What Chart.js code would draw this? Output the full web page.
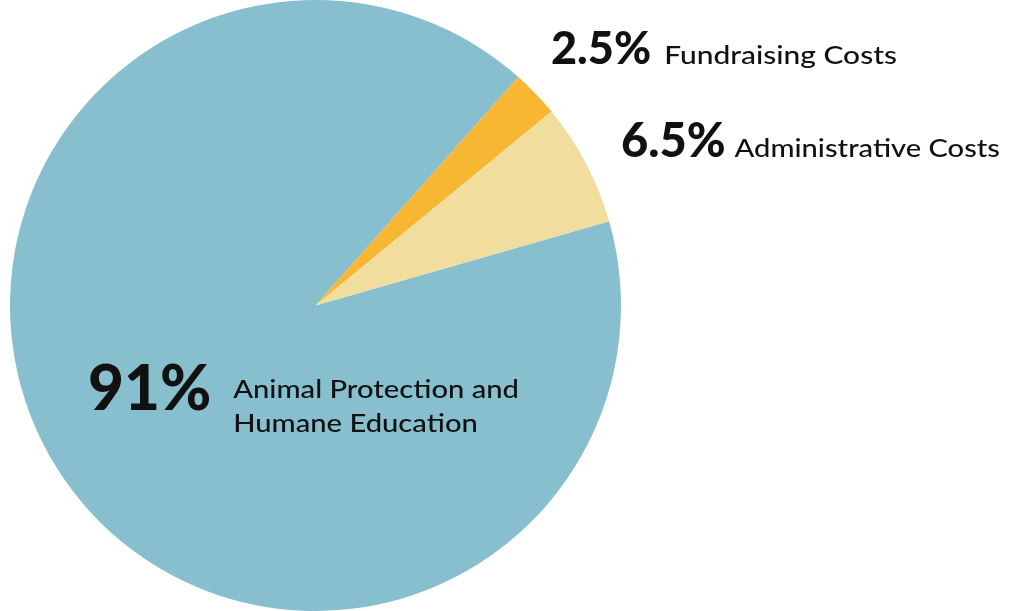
<!DOCTYPE html>
<html>
<head>
<meta charset="utf-8">
<script src="https://cdn.jsdelivr.net/npm/chart.js@4.4.1/dist/chart.umd.min.js"></script>
<style>
  html, body { margin: 0; padding: 0; background: #fff; }
  #wrap { position: relative; width: 1024px; height: 611px; }
</style>
</head>
<body>
<div id="wrap"><canvas id="budgetChart"></canvas></div>
<script>
const categories = [
    ['Animal Protection and', 'Humane Education'],
    ['Fundraising Costs'],
    ['Administrative Costs']
];
const shares = [91, 2.5, 6.5];
const sliceColors = ['#87bfce', '#f8b733', '#f1de9f'];

// where each callout sits (left x of the percentage, baseline y, font sizes, right edge of first text line)
const callouts = [
    { x: 88, y: 410, big: 62, small: 25, gap: 22, lineHeight: 34, firstOffset: -12, right: 519 },
    { x: 551, y: 64, big: 45, small: 24, gap: 13, lineHeight: 0, firstOffset: 0, right: 897 },
    { x: 621, y: 157, big: 47, small: 25, gap: 9, lineHeight: 0, firstOffset: 0, right: 1000 }
];

const calloutPlugin = {
    id: 'callouts',
    afterDraw(chart) {
        const ctx = chart.ctx;
        ctx.save();
        ctx.fillStyle = '#111';
        ctx.textBaseline = 'alphabetic';
        ctx.textAlign = 'left';
        callouts.forEach((c, i) => {
            const pct = shares[i] + '%';
            ctx.font = `900 ${c.big}px Lato`;
            ctx.fillText(pct, c.x, c.y);
            const textX = c.x + ctx.measureText(pct).width + c.gap;
            ctx.font = `500 ${c.small}px Lato`;
            // the original face is wider than Lato, so stretch the label a little
            const w = ctx.measureText(categories[i][0]).width;
            const sx = Math.max(1, (c.right - textX) / w);
            categories[i].forEach((line, j) => {
                ctx.save();
                ctx.translate(textX, c.y + c.firstOffset + j * c.lineHeight);
                ctx.scale(sx, 1);
                ctx.fillText(line, 0, 0);
                ctx.restore();
            });
        });
        ctx.restore();
    }
};

new Chart(document.getElementById('budgetChart'), {
    type: 'pie',
    data: {
        labels: categories.map(l => l.join(' ')),
        datasets: [{
            data: shares,
            backgroundColor: sliceColors,
            borderWidth: 0
        }]
    },
    options: {
        responsive: true,
        maintainAspectRatio: false,
        animation: false,
        rotation: 74,
        layout: {
            padding: { left: 10, right: 403, top: 0, bottom: 0 }
        },
        plugins: {
            legend: { display: false },
            tooltip: { enabled: false }
        }
    },
    plugins: [calloutPlugin]
});
</script>
</body>
</html>
